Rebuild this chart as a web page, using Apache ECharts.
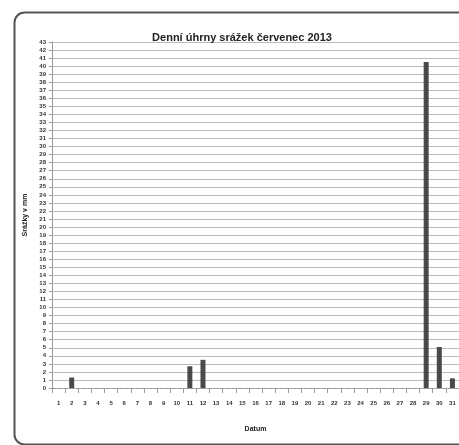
<!DOCTYPE html>
<html><head><meta charset="utf-8">
<script src="https://cdn.jsdelivr.net/npm/echarts@6/dist/echarts.min.js"></script>
<style>html,body{margin:0;padding:0;background:#fff;}#c{width:459px;height:445px;}</style>
</head><body><div id="c"></div>
<script>
const days = ['1','2','3','4','5','6','7','8','9','10','11','12','13','14','15','16','17','18','19','20','21','22','23','24','25','26','27','28','29','30','31'];
const rainfall = [0,1.3,0,0,0,0,0,0,0,0,2.7,3.5,0,0,0,0,0,0,0,0,0,0,0,0,0,0,0,0,40.5,5.1,1.2];
const titleText = 'Denní úhrny srážek červenec 2013';
const yName = 'Srážky v mm';
const xName = 'Datum';

const chart = echarts.init(document.getElementById('c'));
chart.setOption({
  animation: false,
  backgroundColor: '#fff',
  graphic: [{
    type: 'rect', left: 12, top: 10,
    shape: { width: 470, height: 432, r: 10 },
    style: { fill: 'none', stroke: '#555', lineWidth: 2 }
  }],
  title: {
    text: titleText, left: 237, top: 27, textAlign: 'center',
    textStyle: { fontFamily: 'Liberation Sans', fontSize: 11, fontWeight: 'bold', color: '#222' }
  },
  grid: { left: 52, right: -4, top: 42, bottom: 57, containLabel: false },
  xAxis: {
    type: 'category', data: days,
    name: xName, nameLocation: 'middle', nameGap: 38,
    nameTextStyle: { fontFamily: 'Liberation Sans', fontSize: 7, fontWeight: 'bold', color: '#222' },
    axisLine: { lineStyle: { color: '#999', width: 1, type: 'dashed' } },
    axisTick: { show: true, alignWithLabel: false, lineStyle: { color: '#999' } },
    axisLabel: { interval: 0, fontFamily: 'Liberation Sans', fontSize: 6, fontWeight: 'bold', color: '#333', margin: 12 }
  },
  yAxis: {
    type: 'value', min: 0, max: 43, interval: 1,
    name: yName, nameLocation: 'middle', nameGap: 22, nameRotate: 90,
    nameTextStyle: { fontFamily: 'Liberation Sans', fontSize: 7, fontWeight: 'bold', color: '#222' },
    axisLine: { show: true, lineStyle: { color: '#999' } },
    axisTick: { show: true, length: 3, lineStyle: { color: '#999' } },
    axisLabel: { fontFamily: 'Liberation Sans', fontSize: 6, fontWeight: 'bold', color: '#333', margin: 6 },
    splitLine: { show: true, lineStyle: { color: '#bbb', width: 1 } }
  },
  series: [{
    type: 'bar', data: rainfall, barWidth: 5,
    itemStyle: { color: '#4a4a4a' }
  }]
});
</script></body></html>
